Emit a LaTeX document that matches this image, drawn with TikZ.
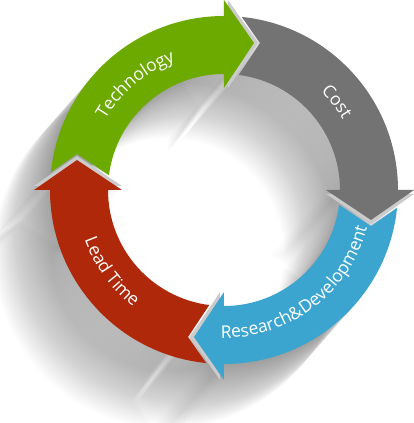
\documentclass[tikz,border=0pt]{standalone}
\usepackage{fontspec}
\setmainfont{Open Sans}
\usepackage{tikz}
\usetikzlibrary{decorations.text}

\definecolor{techgreen}{HTML}{6CAA00}
\definecolor{costgray}{HTML}{737373}
\definecolor{rdblue}{HTML}{3BA5D0}
\definecolor{leadred}{HTML}{B0280A}
\definecolor{rimgray}{HTML}{CBCBCB}

\newcommand{\cyclearrow}{(0,102) -- (30,147) -- (0,190) -- (0,174)
  arc[start angle=90, end angle=174.13, radius=174pt] -- (-147,36)
  -- (172.71:116) arc[start angle=172.71, end angle=90, radius=116pt] -- cycle}
\newcommand{\cyclehead}{(0,102) -- (30,147) -- (0,190) -- cycle}
\newcommand{\labelfont}{\fontsize{17.5}{20}\selectfont}

\begin{document}
\begin{tikzpicture}[x=1pt, y=1pt,
	  shadowcopy/.style={fill=black, fill opacity=0.0105},
	  rim/.style={fill=rimgray},
	  arclabel/.style={decorate, decoration={text along path, text align=center, text color=white}}]
	  \useasboundingbox (-224,-233) rectangle (189,190);
	  \foreach \k in {1,...,40}
	    \foreach \r in {0,-90,-180,-270}
	      \fill[shadowcopy, shift={(-1.4*\k,-1.6*\k)}, rotate=\r] \cyclearrow;
	  \foreach \r in {0,-90,-180,-270}
	    \fill[rim, rotate=\r, xshift=4] \cyclehead;
	  \fill[techgreen] \cyclearrow;
	  \fill[costgray, rotate=-90] \cyclearrow;
	  \fill[rdblue, rotate=-180] \cyclearrow;
	  \fill[leadred, rotate=-270] \cyclearrow;
	  \path[arclabel, decoration={text={|\labelfont|Technology}}]
	    (175:138) arc[start angle=175, end angle=85, radius=138pt];
	  \path[arclabel, decoration={text={|\labelfont|Cost}}]
	    (83:138) arc[start angle=83, end angle=-7, radius=138pt];
	  \path[arclabel, decoration={text={|\labelfont|Research{\&}Development}}]
	    (-98:148) arc[start angle=-98, end angle=-8, radius=148pt];
	  \path[arclabel, decoration={text={|\labelfont|Lead Time}}]
	    (171:148) arc[start angle=171, end angle=261, radius=148pt];
	\end{tikzpicture}
\end{document}
